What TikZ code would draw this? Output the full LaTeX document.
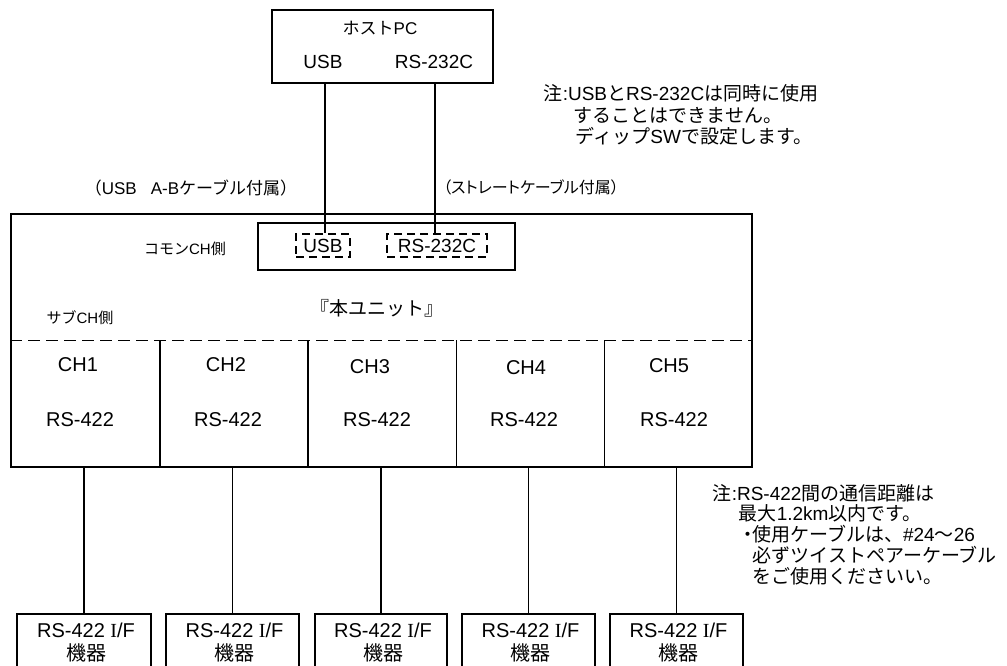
\documentclass[tikz,border=0pt]{standalone}
\usepackage{fontspec}
\setmainfont{Liberation Sans}
\newfontfamily\jp{Noto Sans CJK JP}
\newfontfamily\jpp[RawFeature=+palt]{Noto Sans CJK JP}
\newfontfamily\serifI{Liberation Serif}
\begin{document}
\begin{tikzpicture}[x=1pt,y=-1pt,line width=1.5pt,
  box/.style={draw,rectangle,inner sep=0pt},
  port/.style={draw,rectangle,inner sep=0pt,dash pattern=on 8pt off 5pt},
  txt/.style={inner sep=0pt},
  fs/.style={font=\fontsize{#1}{21}\selectfont},
  note/.style={txt,fs=19,anchor=west},
  divider/.style={line width=1.5pt},
  sepline/.style={line width=1.5pt,dash pattern=on 12pt off 6pt},
  wire/.style={line width=1.5pt}
]
\useasboundingbox (0,0) rectangle (1007,666);

% host PC
\node[box,minimum width=221pt,minimum height=73pt] (host) at (382.5,46.5) {};
\node[txt,fs=17] (hostname) at (380,28) {{\jp ホスト}PC};
\node[txt,fs=19] (hostusb) at (323,62) {USB};
\node[txt,fs=19] (hostrs) at (434,62) {RS-232C};

% note 1
\node[note] (n1a) at (543,93) {{\jp 注}:USB{\jp と}RS-232C{\jp は同時に使用}};
\node[note] (n1b) at (573,115) {\jp することはできません。};
\node[note] (n1c) at (575,136) {{\jp ディップ}SW{\jp で設定します。}};

% cable labels
\node[txt,fs=17] (cab1) at (191,188) {{\jp （}USB\hspace{14pt}A-B{\jp ケーブル付属）}};
\node[txt,fs=16] (cab2) at (531,187) {\jpp （ストレートケーブル付属）};

% main unit
\node[box,minimum width=741pt,minimum height=253pt] (unit) at (381.5,340.5) {};
\node[box,minimum width=257pt,minimum height=47pt] (common) at (386.5,246.5) {};
\node[port,minimum width=54pt,minimum height=23pt,fs=19] (usbport) at (323,245.5) {USB};
\node[port,minimum width=100pt,minimum height=23pt,fs=19] (rsport) at (437,245.5) {RS-232C};
\node[txt,fs=15] (comlbl) at (185,249) {{\jp コモン}CH{\jp 側}};
\node[txt,fs=15] (sublbl) at (80,318) {{\jp サブ}CH{\jp 側}};
\node[txt,fs=19] (unitlbl) at (377,308) {\jp 『本ユニット』};

% host to ports
\coordinate (hu) at (325,83);
\coordinate (hr) at (435,83);
\draw[wire] (hu) -- (usbport.north -| hu);
\draw[wire] (hr) -- (rsport.north -| hr);

% channel cells
\foreach \i in {1,...,5} {
  \node[rectangle,inner sep=0pt,minimum width=148.2pt,minimum height=126pt] (cell\i) at ({11+74.1+148.2*(\i-1)},404) {};
}
\foreach \i in {1,...,4} {
  \draw[divider] (cell\i.north east) -- (cell\i.south east);
}
\draw[sepline] (cell1.north west) -- (cell5.north east);

\foreach \i/\cx/\cy/\rx in {1/78/365/80, 2/226/365/228, 3/370/367/377, 4/526/368/524, 5/669/366/674} {
  \node[txt,fs=20] (chl\i) at (\cx,\cy) {CH\i};
  \node[txt,fs=20] (chr\i) at (\rx,420) {RS-422};
}

% devices
\foreach \i/\dx/\dw in {1/84/134, 2/232.5/133, 3/381/132, 4/528.5/133, 5/676.5/133} {
  \node[box,anchor=north,minimum width=\dw pt,minimum height=80pt] (dev\i) at (\dx,613) {};
  \node[txt,fs=20] (devta\i) at ({\dx+2},630) {RS-422 {\serifI I}/F};
  \node[txt,fs=20] (devtb\i) at ({\dx+2},653) {\jp 機器};
  \draw[wire] (dev\i.north |- cell\i.south) -- (dev\i.north);
}

% note 2
\node[note] (n2a) at (712,493) {{\jp 注}:RS-422{\jp 間の通信距離は}};
\node[note] (n2b) at (738,513) {{\jp 最大}1.2km{\jp 以内です。}};
\node[note] (n2c) at (742,534) {{\jpp ・}{\jp 使用ケーブルは、}\#24{\jp ～}26};
\node[note] (n2d) at (752,555) {\jp 必ずツイストペアーケーブル};
\node[note] (n2e) at (752,576) {\jp をご使用くださいい。};
\end{tikzpicture}
\end{document}
